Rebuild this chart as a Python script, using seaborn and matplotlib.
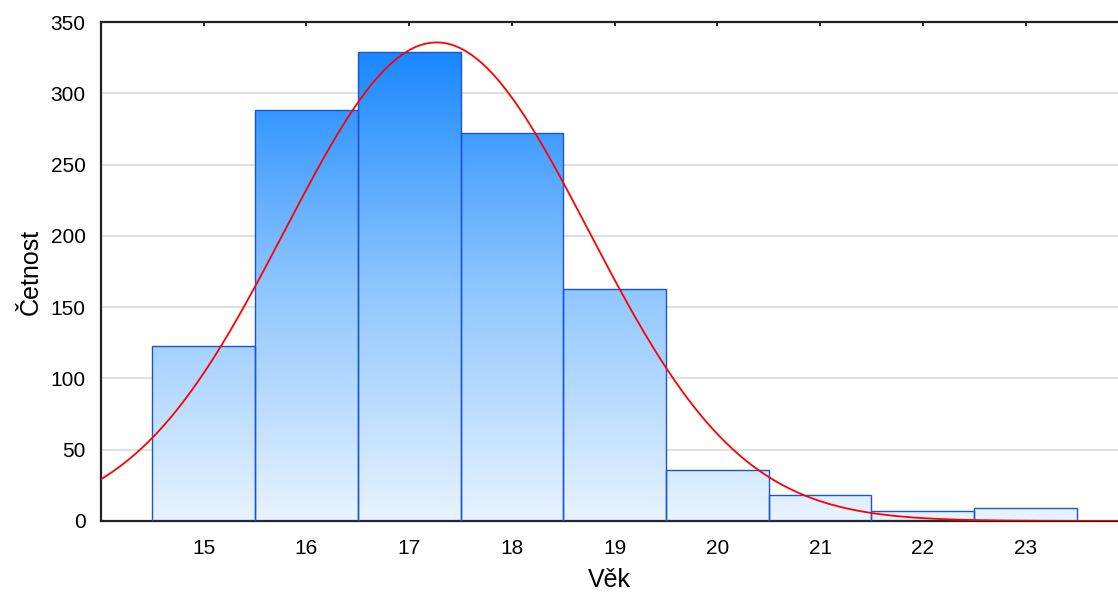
import numpy as np
import pandas as pd
import matplotlib
matplotlib.use("Agg")
import matplotlib.pyplot as plt
import seaborn as sns
from matplotlib.colors import LinearSegmentedColormap

# age classes and their counts
ages = [15, 16, 17, 18, 19, 20, 21, 22, 23]
counts = [123, 288, 329, 272, 163, 36, 18, 7, 9]

df = pd.DataFrame({"Věk": ages, "Četnost": counts})

sns.set_style("white")
plt.rcParams["font.family"] = ["Liberation Sans", "DejaVu Sans"]

fig = plt.figure(figsize=(11.18, 5.92), dpi=100)
ax = fig.add_axes([101 / 1118, 1 - 521 / 592, 1017 / 1118, 499 / 592])

for y in [50, 100, 150, 200, 250, 300]:
    ax.axhline(y, color="#d9d9d9", lw=1.2, zorder=0)

sns.histplot(data=df, x="Věk", weights="Četnost", discrete=True, ax=ax,
             color="#6fb2ff", edgecolor="#1a55d0", linewidth=1.0, alpha=1.0, zorder=2)

# vertical gradient fill clipped to each bar
cmap = LinearSegmentedColormap.from_list("grad", ["#e8f3ff", "#8cc5ff", "#1585ff"])
grad = np.linspace(0, 1, 256).reshape(-1, 1)
for p in ax.patches:
    im = ax.imshow(grad, cmap=cmap, origin="lower", aspect="auto",
                   extent=[14.0, 24.0, 0, 335], zorder=2.5)
    im.set_clip_path(p)
    p.set_facecolor("none")
    p.set_zorder(3)

# normal curve fitted to the counts
n = sum(counts)
mean = np.average(ages, weights=counts)
sd = np.sqrt(np.average((np.array(ages) - mean) ** 2, weights=counts))
xs = np.linspace(14.0, 24.0, 400)
ys = n / (sd * np.sqrt(2 * np.pi)) * np.exp(-(xs - mean) ** 2 / (2 * sd ** 2))
sns.lineplot(x=xs, y=ys, ax=ax, color="red", lw=1.3, zorder=4)

ax.set_xlim(14.0, 23.9)
ax.set_ylim(0, 350)
ax.set_xticks(ages)
ax.set_yticks(range(0, 351, 50))
ax.tick_params(axis="x", direction="in", length=3, width=1.2, top=True, bottom=True,
               labelsize=15, pad=13, colors="black", labelcolor="black")
ax.tick_params(axis="y", direction="out", length=0, labelsize=15, pad=11, labelcolor="black")
for s in ["top", "left", "bottom"]:
    ax.spines[s].set_color("#222222")
    ax.spines[s].set_linewidth(1.6)
ax.spines["right"].set_visible(False)
ax.set_xlabel("Věk", fontsize=18, labelpad=7, color="black")
ax.set_ylabel("Četnost", fontsize=18, labelpad=6, color="black")

fig.savefig("out.png", dpi=100)
